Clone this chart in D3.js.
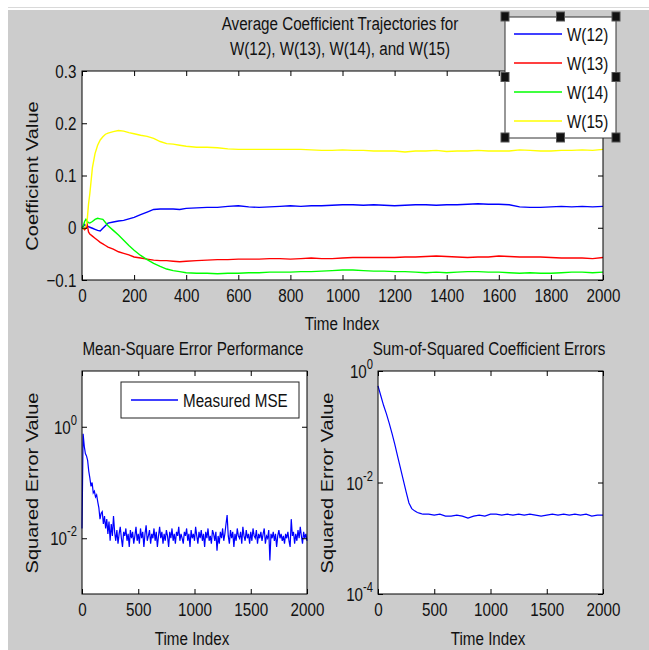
<!DOCTYPE html>
<html>
<head>
<meta charset="utf-8">
<script src="https://cdn.jsdelivr.net/npm/d3@7/dist/d3.min.js"></script>
<style>
  body { margin: 0; background: #fff; }
  svg { display: block; }
  text { font-family: "Liberation Sans", Arial, sans-serif; fill: #111; }
</style>
</head>
<body>
<script>
// ---- data ----
const timeIdx = [0,5,10,15,20,25,30,40,50,60,70,80,90,100,120,140,160,180,200,225,250,275,300,325,350,375,400,
  440,480,520,560,600,640,680,720,760,800,840,880,920,960,1000,1040,1080,1120,1160,1200,1240,1280,1320,1360,1400,
  1440,1480,1520,1560,1600,1640,1680,1720,1760,1800,1840,1880,1920,1960,2000];

const w12 = [0,0.002,0.006,0.004,0.003,0.002,0.001,-0.001,-0.003,-0.005,-0.006,-0.001,0.004,0.009,0.011,0.013,0.014,0.017,0.020,0.025,0.030,0.035,0.036,0.036,0.036,0.035,0.037,
  0.038,0.039,0.039,0.041,0.042,0.040,0.039,0.040,0.041,0.042,0.041,0.042,0.042,0.043,0.044,0.044,0.043,0.044,0.043,0.042,0.043,0.044,0.044,0.043,0.044,
  0.044,0.045,0.046,0.045,0.045,0.044,0.040,0.039,0.039,0.040,0.041,0.040,0.041,0.040,0.041];

const w13 = [0,-0.002,-0.004,-0.001,0.006,-0.008,-0.012,-0.016,-0.020,-0.024,-0.028,-0.031,-0.034,-0.037,-0.041,-0.046,-0.049,-0.052,-0.056,-0.058,-0.060,-0.062,-0.063,-0.063,-0.064,-0.065,-0.064,
  -0.063,-0.062,-0.061,-0.061,-0.060,-0.060,-0.060,-0.059,-0.059,-0.060,-0.059,-0.058,-0.059,-0.059,-0.058,-0.057,-0.057,-0.057,-0.057,-0.057,-0.056,-0.056,-0.055,-0.054,-0.055,
  -0.056,-0.057,-0.056,-0.056,-0.054,-0.055,-0.056,-0.056,-0.056,-0.057,-0.058,-0.058,-0.058,-0.059,-0.057];

const w14 = [0,0.004,0.012,0.016,0.012,0.010,0.009,0.012,0.016,0.018,0.017,0.016,0.010,0.004,-0.005,-0.014,-0.024,-0.034,-0.043,-0.053,-0.061,-0.068,-0.074,-0.079,-0.082,-0.084,-0.086,
  -0.087,-0.087,-0.088,-0.087,-0.087,-0.086,-0.086,-0.085,-0.085,-0.085,-0.084,-0.084,-0.083,-0.082,-0.081,-0.081,-0.082,-0.083,-0.083,-0.084,-0.084,-0.085,-0.086,-0.085,-0.086,
  -0.085,-0.084,-0.084,-0.085,-0.085,-0.086,-0.087,-0.086,-0.087,-0.087,-0.086,-0.085,-0.085,-0.086,-0.085];

const w15 = [0,-0.002,0.000,0.003,0.015,0.045,0.065,0.115,0.142,0.158,0.168,0.174,0.179,0.181,0.184,0.186,0.185,0.182,0.180,0.177,0.175,0.171,0.165,0.161,0.160,0.158,0.156,
  0.154,0.154,0.153,0.151,0.150,0.150,0.150,0.150,0.150,0.150,0.150,0.149,0.148,0.148,0.149,0.148,0.148,0.147,0.147,0.147,0.145,0.147,0.147,0.148,0.146,
  0.147,0.147,0.148,0.147,0.147,0.147,0.149,0.148,0.147,0.147,0.148,0.148,0.149,0.148,0.150];

const coefNames = ["W(12)", "W(13)", "W(14)", "W(15)"];
const coefColors = ["#0000ff", "#ff0000", "#00ff00", "#ffff00"];
const coefSeries = [w12, w13, w14, w15];

// measured MSE, every 10 samples from 0 to 2000
const mseTime = [0,10,20,30,40,50,60,70,80,90,100,110,120,130,140,150,160,170,180,190,200,210,220,230,240,250,260,270,280,290,
  300,310,320,330,340,350,360,370,380,390,400,410,420,430,440,450,460,470,480,490,500,510,520,530,540,550,560,570,580,590,
  600,610,620,630,640,650,660,670,680,690,700,710,720,730,740,750,760,770,780,790,800,810,820,830,840,850,860,870,880,890,
  900,910,920,930,940,950,960,970,980,990,1000,1010,1020,1030,1040,1050,1060,1070,1080,1090,1100,1110,1120,1130,1140,1150,1160,1170,1180,1190,
  1200,1210,1220,1230,1240,1250,1260,1270,1280,1290,1300,1310,1320,1330,1340,1350,1360,1370,1380,1390,1400,1410,1420,1430,1440,1450,1460,1470,1480,1490,
  1500,1510,1520,1530,1540,1550,1560,1570,1580,1590,1600,1610,1620,1630,1640,1650,1660,1670,1680,1690,1700,1710,1720,1730,1740,1750,1760,1770,1780,1790,
  1800,1810,1820,1830,1840,1850,1860,1870,1880,1890,1900,1910,1920,1930,1940,1950,1960,1970,1980,1990,2000];
const mseVals = [0.015,0.75,0.45,0.33,0.30,0.25,0.16,0.12,0.085,0.10,0.065,0.07,0.055,0.06,0.045,0.035,0.022,0.028,0.030,0.018,0.025,0.015,0.022,0.012,0.020,0.009,0.018,0.011,0.025,0.013,
  0.009,0.014,0.008,0.012,0.016,0.010,0.007,0.013,0.011,0.015,0.009,0.012,0.007,0.014,0.010,0.013,0.008,0.011,0.016,0.009,
  0.012,0.008,0.015,0.010,0.013,0.007,0.012,0.017,0.009,0.011,0.014,0.008,0.012,0.010,0.015,0.009,0.013,0.007,0.011,0.016,
  0.010,0.013,0.008,0.012,0.009,0.014,0.011,0.007,0.013,0.010,0.015,0.009,0.012,0.008,0.013,0.011,0.016,0.009,0.012,0.010,
  0.008,0.013,0.011,0.015,0.009,0.012,0.007,0.014,0.010,0.012,0.009,0.016,0.011,0.008,0.013,0.010,0.014,0.009,0.012,0.007,
  0.013,0.010,0.015,0.009,0.011,0.008,0.014,0.012,0.009,0.013,0.006,0.011,0.008,0.013,0.010,0.015,0.009,0.012,0.018,0.026,
  0.011,0.008,0.014,0.010,0.013,0.007,0.012,0.009,0.015,0.011,0.010,0.013,0.008,0.016,0.011,0.009,0.014,0.010,0.012,0.008,
  0.013,0.009,0.015,0.011,0.010,0.014,0.008,0.012,0.010,0.013,0.009,0.012,0.015,0.008,0.011,0.010,0.014,0.004,0.012,0.010,
  0.013,0.009,0.012,0.007,0.011,0.014,0.010,0.012,0.009,0.011,0.008,0.012,0.010,0.013,0.009,0.007,0.022,0.011,0.013,0.008,
  0.012,0.009,0.014,0.010,0.016,0.011,0.008,0.013,0.010,0.012,0.009];

// sum of squared coefficient errors
const sseTime = [0,25,50,75,100,125,150,175,200,225,250,275,300,325,350,375,400,450,500,550,600,650,700,750,800,850,900,950,
  1000,1050,1100,1150,1200,1250,1300,1350,1400,1450,1500,1550,1600,1650,1700,1750,1800,1850,1900,1950,2000];
const sseVals = [0.54,0.36,0.24,0.17,0.115,0.075,0.048,0.029,0.018,0.011,0.0068,0.0043,0.0034,0.0031,0.0029,0.0028,0.0027,0.0027,0.0026,0.0027,0.0025,0.0025,0.0026,0.0025,0.0023,0.0025,0.0026,0.0025,
  0.0027,0.0027,0.0026,0.0027,0.0026,0.0027,0.0026,0.0027,0.0026,0.0025,0.0026,0.0027,0.0026,0.0027,0.0026,0.0027,0.0026,0.0027,0.0025,0.0026,0.0026];

const topXTicks = [0,200,400,600,800,1000,1200,1400,1600,1800,2000];
const topYTicks = [-0.1,0,0.1,0.2,0.3];
const botXTicks = [0,500,1000,1500,2000];

// ---- drawing ----
const W = 649, H = 650, FS = 19, SX = 0.8;

const svg = d3.select("body").append("svg").attr("width", W).attr("height", H);
svg.append("rect").attr("x", 8).attr("y", 10).attr("width", W - 8).attr("height", H - 10).attr("fill", "#cccccc");
svg.append("line").attr("x1", 8).attr("x2", W).attr("y1", 7.5).attr("y2", 7.5).attr("stroke", "#d9d9d9");

// narrow text helper (matlab screenshot is squeezed horizontally)
function label(x, y, s, anchor, rotate) {
  return svg.append("text")
    .attr("transform", `translate(${x},${y})` + (rotate ? " rotate(-90)" : "") + (rotate ? ` scale(1,${SX})` : ` scale(${SX},1)`))
    .attr("text-anchor", anchor || "middle")
    .attr("font-size", rotate ? 20 : FS)
    .text(s);
}

function frame(g, w, h) {
  g.append("rect").attr("width", w).attr("height", h).attr("fill", "#fff");
}
function border(g, w, h) {
  g.append("rect").attr("width", w).attr("height", h).attr("fill", "none").attr("stroke", "#000").attr("stroke-width", 1);
}
function styleAxis(a) {
  a.select(".domain").remove();
  a.selectAll(".tick line").attr("stroke", "#000");
  a.selectAll("text").attr("font-size", FS).attr("font-family", null).attr("fill", "#111")
    .attr("transform", `scale(${SX},1)`);
}

// ---------- top: coefficient trajectories ----------
const T = { x: 82, y: 71, w: 521, h: 209 };
const xT = d3.scaleLinear().domain([0, 2000]).range([0, T.w]);
const yT = d3.scaleLinear().domain([-0.1, 0.3]).range([T.h, 0]);
const gT = svg.append("g").attr("transform", `translate(${T.x},${T.y})`);
frame(gT, T.w, T.h);

coefSeries.forEach((s, i) => {
  gT.append("path")
    .datum(s.map((v, k) => [timeIdx[k], v]))
    .attr("fill", "none")
    .attr("stroke", coefColors[i])
    .attr("stroke-width", 1.4)
    .attr("d", d3.line().x(d => xT(d[0])).y(d => yT(d[1])));
});

styleAxis(gT.append("g").attr("transform", `translate(0,${T.h})`)
  .call(d3.axisBottom(xT).tickValues(topXTicks).tickSize(-5).tickPadding(9).tickFormat(d3.format("d"))));
styleAxis(gT.append("g").call(d3.axisTop(xT).tickValues(topXTicks).tickSize(-5).tickFormat("")));
styleAxis(gT.append("g").call(d3.axisLeft(yT).tickValues(topYTicks).tickSize(-5).tickPadding(7)
  .tickFormat(d => d === 0 ? "0" : d3.format(".1f")(d))));
styleAxis(gT.append("g").attr("transform", `translate(${T.w},0)`)
  .call(d3.axisRight(yT).tickValues(topYTicks).tickSize(-5).tickFormat("")));
border(gT, T.w, T.h);

label(340, 30, "Average Coefficient Trajectories for");
label(340, 55, "W(12), W(13), W(14), and W(15)");
label(342, 330, "Time Index");
label(38, 176, "Coefficient Value", "middle", true);

// legend with selection handles
const L = { x: 505, y: 17, w: 111, h: 121 };
svg.append("rect").attr("x", L.x).attr("y", L.y).attr("width", L.w).attr("height", L.h)
  .attr("fill", "#fff").attr("stroke", "#333").attr("stroke-width", 1);
coefNames.forEach((n, i) => {
  const yy = 34 + i * 29;
  svg.append("line").attr("x1", 514).attr("x2", 562).attr("y1", yy).attr("y2", yy)
    .attr("stroke", coefColors[i]).attr("stroke-width", 1.4);
  label(567, yy + 7, n, "start");
});
const hx = [L.x, L.x + L.w / 2, L.x + L.w], hy = [L.y, L.y + L.h / 2, L.y + L.h];
hy.forEach((yy, j) => hx.forEach((xx, i) => {
  if (i === 1 && j === 1) return;
  svg.append("rect").attr("x", xx - 4).attr("y", yy - 5).attr("width", 8).attr("height", 9)
    .attr("fill", "#111").attr("stroke", "#555").attr("stroke-width", 1);
}));

// ---------- bottom panels (log y) ----------
function logPanel(P, domain, ticks, xs, ys) {
  const x = d3.scaleLinear().domain([0, 2000]).range([0, P.w]);
  const y = d3.scaleLog().domain(domain).range([P.h, 0]);
  const g = svg.append("g").attr("transform", `translate(${P.x},${P.y})`);
  frame(g, P.w, P.h);
  g.append("path")
    .datum(ys.map((v, k) => [xs[k], v]))
    .attr("fill", "none").attr("stroke", "#0000ff").attr("stroke-width", 1.2)
    .attr("d", d3.line().x(d => x(d[0])).y(d => y(d[1])));

  styleAxis(g.append("g").attr("transform", `translate(0,${P.h})`)
    .call(d3.axisBottom(x).tickValues(botXTicks).tickSize(-5).tickPadding(9).tickFormat(d3.format("d"))));
  styleAxis(g.append("g").call(d3.axisTop(x).tickValues(botXTicks).tickSize(-5).tickFormat("")));
  styleAxis(g.append("g").call(d3.axisLeft(y).tickValues(ticks).tickSize(-5).tickFormat("")));
  styleAxis(g.append("g").attr("transform", `translate(${P.w},0)`)
    .call(d3.axisRight(y).tickValues(ticks).tickSize(-5).tickFormat("")));
  border(g, P.w, P.h);

  ticks.forEach(v => {
    const t = g.append("text")
      .attr("transform", `translate(-5,${y(v) + 7}) scale(${SX},1)`)
      .attr("text-anchor", "end").attr("font-size", FS);
    t.append("tspan").text("10");
    t.append("tspan").attr("dy", -9).attr("font-size", 14).text(String(Math.round(Math.log10(v))));
  });
  return g;
}

logPanel({ x: 82, y: 371, w: 225, h: 223 }, [1e-3, 1e1], [1, 1e-2], mseTime, mseVals);
label(193, 355, "Mean-Square Error Performance");
label(192, 645, "Time Index");
label(38, 483, "Squared Error Value", "middle", true);

svg.append("rect").attr("x", 121).attr("y", 382).attr("width", 178).attr("height", 36)
  .attr("fill", "#fff").attr("stroke", "#222").attr("stroke-width", 1);
svg.append("line").attr("x1", 131).attr("x2", 178).attr("y1", 400).attr("y2", 400)
  .attr("stroke", "#0000ff").attr("stroke-width", 1.4);
label(183, 407, "Measured MSE", "start");

logPanel({ x: 378, y: 371, w: 225, h: 223 }, [1e-4, 1e0], [1, 1e-2, 1e-4], sseTime, sseVals);
label(489, 355, "Sum-of-Squared Coefficient Errors");
label(488, 645, "Time Index");
label(333, 483, "Squared Error Value", "middle", true);
</script>
</body>
</html>
